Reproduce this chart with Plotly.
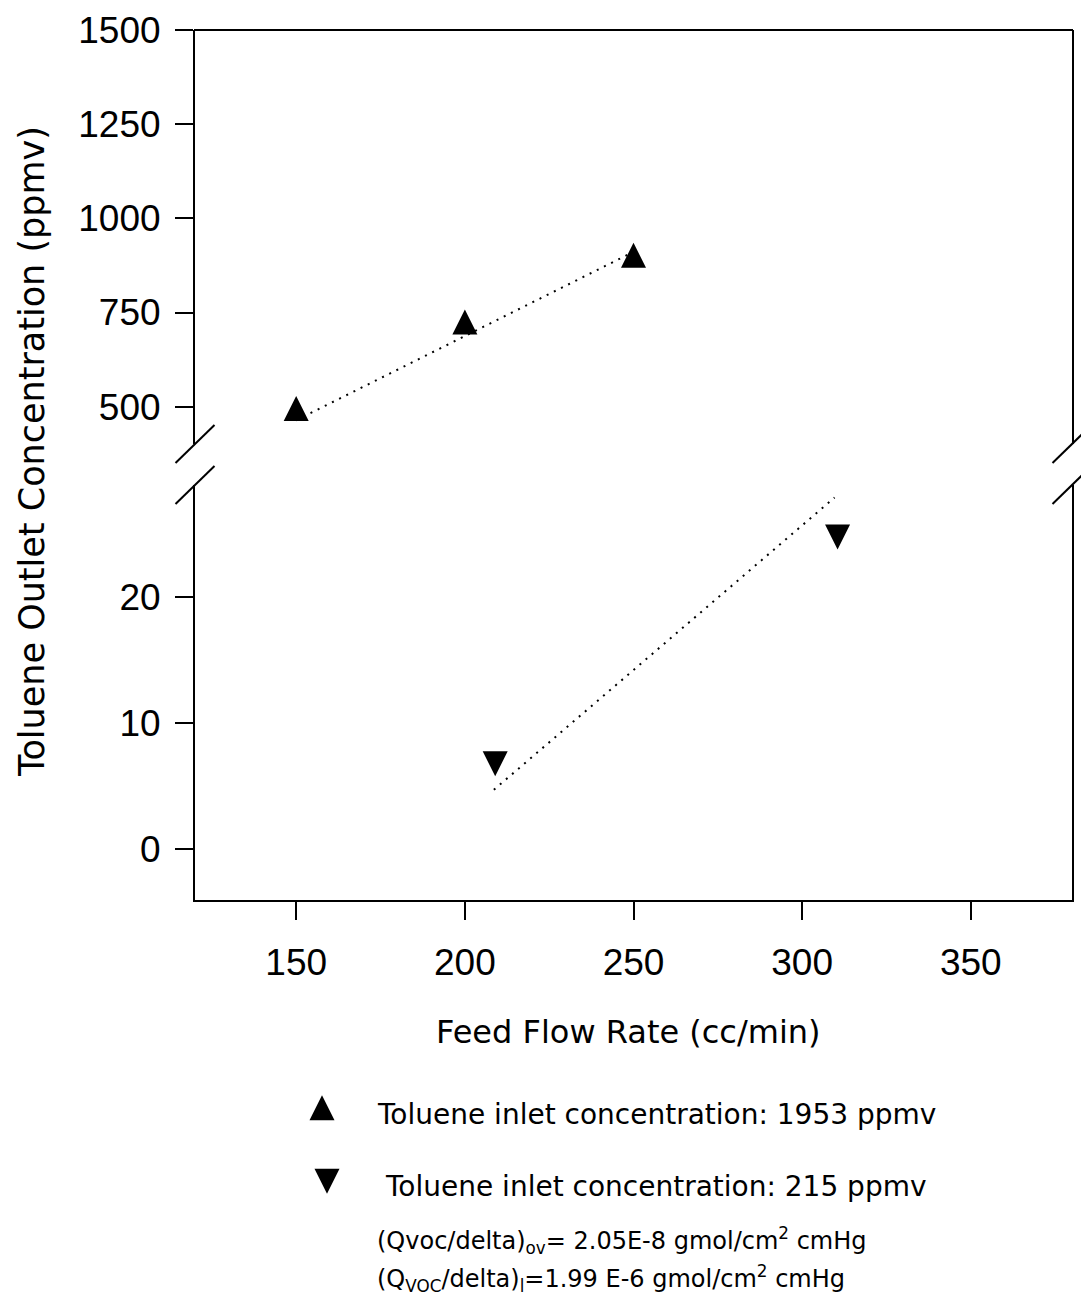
import plotly.graph_objects as go

# Measured outlet concentrations (ppmv) vs feed flow rate (cc/min)
high_inlet_flow = [150, 200, 250]
high_inlet_outlet = [484, 714, 891]
low_inlet_flow = [209, 310.5]
low_inlet_outlet = [7.1, 25.1]

# Model predictions (dotted lines)
model_high_flow = [150, 250]
model_high_outlet = [464, 911]
model_low_flow = [208.6, 309.6]
model_low_outlet = [4.7, 27.9]

x_ticks = [150, 200, 250, 300, 350]
upper_ticks = [500, 750, 1000, 1250, 1500]
lower_ticks = [0, 10, 20]

legend_labels = [
    "Toluene inlet concentration: 1953 ppmv",
    "Toluene inlet concentration: 215 ppmv",
]
param_lines = [
    "(Qvoc/delta)<sub>ov</sub>= 2.05E-8 gmol/cm<sup>2</sup> cmHg",
    "(Q<sub>VOC</sub>/delta)<sub>l</sub>=1.99 E-6 gmol/cm<sup>2</sup> cmHg",
]

W, H = 1081, 1296
TICK_FONT = dict(family="Liberation Sans, Arial", size=37, color="black")
TEXT_FONT = "DejaVu Sans"

# page-pixel layout of the plot frame
LEFT, RIGHT = 195, 1072
UP_TOP, UP_BOT = 30, 444
LO_TOP, LO_BOT = 485, 900


def px(x):
    return x / W


def py(y):
    return 1 - y / H


MSIZE = 25
R = MSIZE / 2
STANDOFF = 4 * R / 3
up_marker = dict(symbol="arrow-down", angle=180, standoff=STANDOFF, size=MSIZE, color="black")
down_marker = dict(symbol="arrow-down", angle=0, standoff=STANDOFF, size=MSIZE, color="black")
dotted = dict(color="black", width=2, dash="2px,6px")

fig = go.Figure()

fig.add_trace(go.Scatter(x=model_high_flow, y=model_high_outlet, mode="lines",
                         line=dotted, xaxis="x", yaxis="y", showlegend=False))
fig.add_trace(go.Scatter(x=high_inlet_flow, y=high_inlet_outlet, mode="markers",
                         marker=up_marker, xaxis="x", yaxis="y", showlegend=False))
fig.add_trace(go.Scatter(x=model_low_flow, y=model_low_outlet, mode="lines",
                         line=dotted, xaxis="x", yaxis="y2", showlegend=False))
fig.add_trace(go.Scatter(x=low_inlet_flow, y=low_inlet_outlet, mode="markers",
                         marker=down_marker, xaxis="x", yaxis="y2", showlegend=False))

# legend keys drawn on a hidden page-sized subplot
fig.add_trace(go.Scatter(x=[322], y=[1112], mode="markers", marker=up_marker,
                         xaxis="x3", yaxis="y3", showlegend=False, hoverinfo="skip"))
fig.add_trace(go.Scatter(x=[327], y=[1177], mode="markers", marker=down_marker,
                         xaxis="x3", yaxis="y3", showlegend=False, hoverinfo="skip"))

axis_common = dict(
    showgrid=False, zeroline=False, showline=True, linecolor="black", linewidth=2,
    ticks="outside", ticklen=18, tickwidth=2, tickcolor="black", tickfont=TICK_FONT,
    automargin=False,
)

fig.update_layout(
    width=W, height=H,
    margin=dict(l=0, r=0, t=0, b=0, pad=0),
    paper_bgcolor="white", plot_bgcolor="rgba(0,0,0,0)",
    xaxis=dict(domain=[px(LEFT), px(RIGHT)], range=[120, 380], anchor="y2",
               tickvals=x_ticks, ticklabelstandoff=11, **axis_common),
    yaxis=dict(domain=[py(UP_BOT), py(UP_TOP)], range=[401, 1500], anchor="x",
               tickvals=upper_ticks, mirror=True, ticklabelstandoff=7, **axis_common),
    yaxis2=dict(domain=[py(LO_BOT), py(LO_TOP)], range=[-4.05, 28.9], anchor="x",
                tickvals=lower_ticks, mirror=True, ticklabelstandoff=7, **axis_common),
    xaxis3=dict(domain=[0, 1], range=[0, W], anchor="y3", visible=False, automargin=False),
    yaxis3=dict(domain=[0, 1], range=[H, 0], anchor="x3", visible=False, automargin=False),
)

# top edge of the frame and the axis-break slashes
shapes = [dict(type="line", xref="paper", yref="paper", x0=px(LEFT - 1), x1=px(RIGHT + 1),
               y0=py(UP_TOP), y1=py(UP_TOP), line=dict(color="black", width=2))]
dx, dy = 19.5 / W, 19 / H
for xc in (px(LEFT), px(RIGHT)):
    for yc in (py(UP_BOT), py(LO_TOP)):
        shapes.append(dict(type="line", xref="paper", yref="paper",
                           x0=xc - dx, y0=yc - dy, x1=xc + dx, y1=yc + dy,
                           line=dict(color="black", width=2)))
fig.update_layout(shapes=shapes)

annotations = [
    dict(text="Toluene Outlet Concentration (ppmv)", x=px(32), y=py(452), textangle=-90,
         xanchor="center", font=dict(family=TEXT_FONT, size=35, color="black")),
    dict(text="Feed Flow Rate (cc/min)", x=px(628), y=py(1032), xanchor="center",
         font=dict(family=TEXT_FONT, size=32, color="black")),
    dict(text=legend_labels[0], x=px(375), y=py(1114), xanchor="left",
         font=dict(family=TEXT_FONT, size=28, color="black")),
    dict(text=legend_labels[1], x=px(383), y=py(1186), xanchor="left",
         font=dict(family=TEXT_FONT, size=28, color="black")),
    dict(text=param_lines[0], x=px(375), y=py(1240), xanchor="left",
         font=dict(family=TEXT_FONT, size=24, color="black")),
    dict(text=param_lines[1], x=px(375), y=py(1278), xanchor="left",
         font=dict(family=TEXT_FONT, size=24, color="black")),
]
for a in annotations:
    a.update(xref="paper", yref="paper", showarrow=False, yanchor="middle")
fig.update_layout(annotations=annotations)

fig.write_html("out.html")
